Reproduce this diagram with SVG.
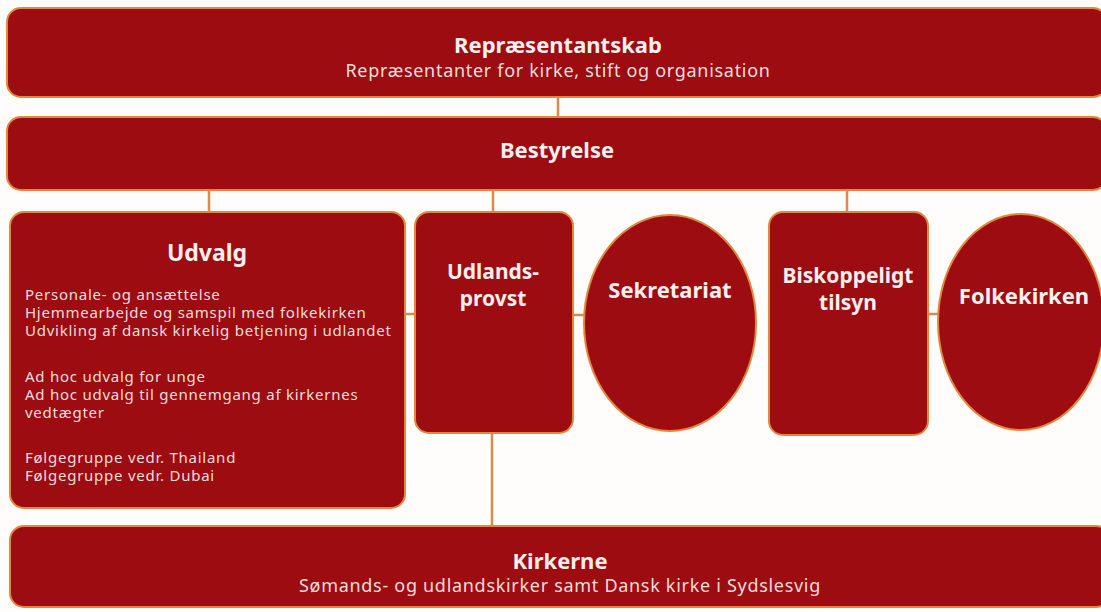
<svg xmlns="http://www.w3.org/2000/svg" width="1101" height="612" viewBox="0 0 1101 612">
<style>
.box{fill:#9c0c10;stroke:#e3873f;stroke-width:2}
.con{stroke:#d98a4e;stroke-width:2.5;fill:none}
.t{font-family:"Noto Sans","Open Sans",sans-serif;fill:#fbeeee;text-anchor:middle}
.b{font-weight:bold;font-size:22px}
.m{font-size:21px}
.s{font-size:18px;letter-spacing:0.7px;fill:#f3dede}
.l{font-family:"Noto Sans","Open Sans",sans-serif;fill:#f3dede;font-size:15px;letter-spacing:0.75px}
</style>
<rect width="1101" height="612" fill="#fffdfb"/>
<g id="connectors">
<line class="con" x1="558" y1="97" x2="558" y2="117"/>
<line class="con" x1="209" y1="190" x2="209" y2="212"/>
<line class="con" x1="493" y1="190" x2="493" y2="212"/>
<line class="con" x1="847" y1="190" x2="847" y2="212"/>
<line class="con" x1="405" y1="314" x2="415" y2="314"/>
<line class="con" x1="573" y1="315" x2="584" y2="315"/>
<line class="con" x1="928" y1="314" x2="939" y2="314"/>
<line class="con" x1="492" y1="433" x2="492" y2="526"/>
</g>
<g id="repraesentantskab">
<rect class="box" x="7" y="8" width="1100" height="89" rx="14"/>
<text class="t b" x="558" y="53">Repræsentantskab</text>
<text class="t s" x="558" y="77">Repræsentanter for kirke, stift og organisation</text>
</g>
<g id="bestyrelse">
<rect class="box" x="7" y="117" width="1100" height="73" rx="14"/>
<text class="t b" x="557" y="158">Bestyrelse</text>
</g>
<g id="udvalg">
<rect class="box" x="10" y="212" width="395" height="296" rx="14"/>
<text class="t b" x="207" y="261" style="font-size:23px">Udvalg</text>
<text class="l"><tspan x="25" y="300">Personale- og ansættelse</tspan><tspan x="25" y="318">Hjemmearbejde og samspil med folkekirken</tspan><tspan x="25" y="336">Udvikling af dansk kirkelig betjening i udlandet</tspan><tspan x="25" y="382">Ad hoc udvalg for unge</tspan><tspan x="25" y="400">Ad hoc udvalg til gennemgang af kirkernes</tspan><tspan x="25" y="418">vedtægter</tspan><tspan x="25" y="463">Følgegruppe vedr. Thailand</tspan><tspan x="25" y="481">Følgegruppe vedr. Dubai</tspan></text>
</g>
<g id="udlandsprovst">
<rect class="box" x="415" y="212" width="158" height="221" rx="14"/>
<text class="t b m"><tspan x="493" y="279">Udlands-</tspan><tspan x="493" y="306">provst</tspan></text>
</g>
<g id="sekretariat">
<ellipse class="box" cx="670" cy="323" rx="86" ry="108"/>
<text class="t b" x="670" y="298">Sekretariat</text>
</g>
<g id="biskoppeligt">
<rect class="box" x="769" y="212" width="159" height="223" rx="14"/>
<text class="t b m"><tspan x="848" y="283">Biskoppeligt</tspan><tspan x="848" y="310">tilsyn</tspan></text>
</g>
<g id="folkekirken">
<ellipse class="box" cx="1021" cy="322" rx="83" ry="108"/>
<text class="t b" x="1024" y="304">Folkekirken</text>
</g>
<g id="kirkerne">
<rect class="box" x="10" y="526" width="1100" height="81" rx="14"/>
<text class="t b" x="560" y="569">Kirkerne</text>
<text class="t s" x="560" y="592">Sømands- og udlandskirker samt Dansk kirke i Sydslesvig</text>
</g>
</svg>
